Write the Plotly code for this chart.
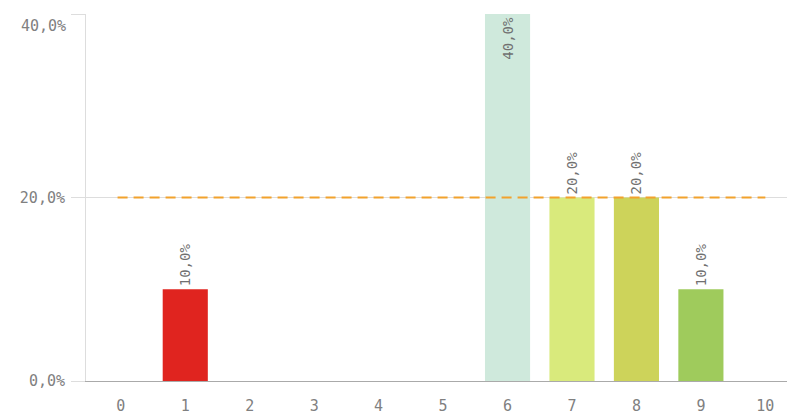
import plotly.graph_objects as go

categories = [0, 1, 2, 3, 4, 5, 6, 7, 8, 9, 10]
values = [0, 10, 0, 0, 0, 0, 40, 20, 20, 10, 0]
bar_colors = ["#e0241f", "#e0241f", "#e0241f", "#e0241f", "#e0241f", "#e0241f",
              "#cfe9dc", "#d9ea7c", "#cdd35a", "#9fcb5c", "#9fcb5c"]
target = 20
y_ticks = [0, 20, 40]
y_ticktext = ["0,0%", "20,0%", "40,0%"]

FONT = "DejaVu Sans Mono"
labels = [("%.1f%%" % v).replace(".", ",") if v > 0 else "" for v in values]
ymax = max(y_ticks)
positions = ["inside" if v >= ymax else "outside" for v in values]

fig = go.Figure()
fig.add_trace(go.Bar(
    x=categories, y=values, width=0.7,
    marker=dict(color=bar_colors, line=dict(width=0)),
    text=labels, textposition=positions, textangle=-90,
    insidetextanchor="end",
    textfont=dict(family=FONT, size=14, color="#707070"),
    cliponaxis=False, hoverinfo="skip",
))
fig.add_trace(go.Scatter(
    x=[categories[0] - 0.05, categories[-1]], y=[target, target], mode="lines",
    line=dict(color="#f2a22c", width=2, dash="10px,6px"), hoverinfo="skip",
))
# top tick label is drawn slightly below its gridline (kept inside the chart)
fig.add_annotation(x=0, xref="paper", xanchor="right", xshift=-18,
                   y=y_ticks[-1], yref="y", yanchor="top", yshift=-1,
                   text=y_ticktext[-1], showarrow=False,
                   font=dict(family=FONT, size=15, color="#808080"))
fig.update_layout(
    width=787, height=410, showlegend=False,
    margin=dict(l=78, r=0, t=6, b=37),
    plot_bgcolor="white", paper_bgcolor="white",
    xaxis=dict(range=[-0.54, 10.46], tickvals=categories, showgrid=False,
               showline=True, linecolor="#aaaaaa", linewidth=1, zeroline=False,
               tickfont=dict(family=FONT, size=15, color="#808080"),
               ticks="", ticklabelstandoff=11, fixedrange=True),
    yaxis=dict(range=[0, ymax], tickvals=y_ticks,
               ticktext=y_ticktext[:-1] + [""],
               showgrid=True, gridcolor="#dddddd", gridwidth=1,
               showline=True, linecolor="#dddddd", zeroline=False,
               ticks="outside", ticklen=14, tickcolor="#dddddd",
               ticklabelstandoff=3,
               tickfont=dict(family=FONT, size=15, color="#808080"),
               fixedrange=True),
)
fig.write_html("out.html")
